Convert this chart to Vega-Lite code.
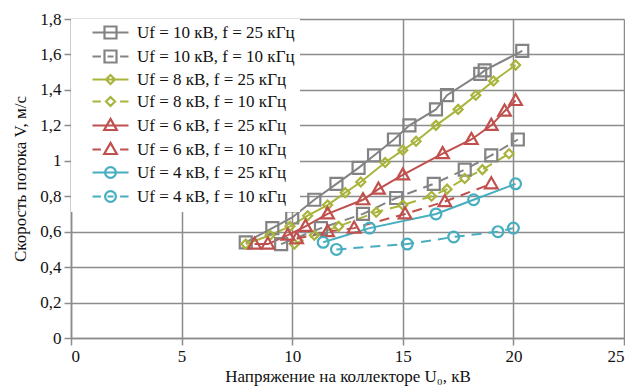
{
  "$schema": "https://vega.github.io/schema/vega-lite/v6.json",
  "width": 553,
  "height": 319,
  "padding": {"left": 11, "top": 10, "right": 0, "bottom": 5},
  "background": "white",
  "config": {
    "font": "Liberation Serif",
    "view": {"stroke": null},
    "axis": {
      "labelFont": "Liberation Serif",
      "titleFont": "Liberation Serif",
      "labelFontSize": 17,
      "titleFontSize": 17,
      "titleFontWeight": "normal",
      "labelColor": "#111",
      "titleColor": "#111",
      "gridColor": "#8c8c8c",
      "gridWidth": 1.5,
      "gridOpacity": 1,
      "domainColor": "#8c8c8c",
      "domainWidth": 1.5,
      "tickColor": "#8c8c8c",
      "tickWidth": 1.5,
      "tickSize": 7
    }
  },
  "data": {
    "values": [
      {"series": "Uf = 10 кВ, f = 25 кГц", "x": 7.9, "y": 0.54},
      {"series": "Uf = 10 кВ, f = 25 кГц", "x": 9.1, "y": 0.62},
      {"series": "Uf = 10 кВ, f = 25 кГц", "x": 10.0, "y": 0.68},
      {"series": "Uf = 10 кВ, f = 25 кГц", "x": 11.0, "y": 0.78},
      {"series": "Uf = 10 кВ, f = 25 кГц", "x": 12.0, "y": 0.87},
      {"series": "Uf = 10 кВ, f = 25 кГц", "x": 13.0, "y": 0.96},
      {"series": "Uf = 10 кВ, f = 25 кГц", "x": 13.7, "y": 1.03},
      {"series": "Uf = 10 кВ, f = 25 кГц", "x": 14.6, "y": 1.12},
      {"series": "Uf = 10 кВ, f = 25 кГц", "x": 15.3, "y": 1.20},
      {"series": "Uf = 10 кВ, f = 25 кГц", "x": 16.5, "y": 1.29},
      {"series": "Uf = 10 кВ, f = 25 кГц", "x": 17.0, "y": 1.37},
      {"series": "Uf = 10 кВ, f = 25 кГц", "x": 18.5, "y": 1.49},
      {"series": "Uf = 10 кВ, f = 25 кГц", "x": 18.7, "y": 1.51},
      {"series": "Uf = 10 кВ, f = 25 кГц", "x": 20.4, "y": 1.62},
      {"series": "Uf = 10 кВ, f = 10 кГц", "x": 9.5, "y": 0.53},
      {"series": "Uf = 10 кВ, f = 10 кГц", "x": 11.3, "y": 0.62},
      {"series": "Uf = 10 кВ, f = 10 кГц", "x": 13.2, "y": 0.70},
      {"series": "Uf = 10 кВ, f = 10 кГц", "x": 14.7, "y": 0.79},
      {"series": "Uf = 10 кВ, f = 10 кГц", "x": 16.4, "y": 0.87},
      {"series": "Uf = 10 кВ, f = 10 кГц", "x": 17.8, "y": 0.95},
      {"series": "Uf = 10 кВ, f = 10 кГц", "x": 19.0, "y": 1.03},
      {"series": "Uf = 10 кВ, f = 10 кГц", "x": 20.2, "y": 1.12},
      {"series": "Uf = 8 кВ, f = 25 кГц", "x": 7.9, "y": 0.53},
      {"series": "Uf = 8 кВ, f = 25 кГц", "x": 9.0, "y": 0.58},
      {"series": "Uf = 8 кВ, f = 25 кГц", "x": 9.9, "y": 0.63},
      {"series": "Uf = 8 кВ, f = 25 кГц", "x": 10.7, "y": 0.69},
      {"series": "Uf = 8 кВ, f = 25 кГц", "x": 11.6, "y": 0.75},
      {"series": "Uf = 8 кВ, f = 25 кГц", "x": 12.4, "y": 0.82},
      {"series": "Uf = 8 кВ, f = 25 кГц", "x": 13.1, "y": 0.88},
      {"series": "Uf = 8 кВ, f = 25 кГц", "x": 14.2, "y": 0.99},
      {"series": "Uf = 8 кВ, f = 25 кГц", "x": 15.0, "y": 1.06},
      {"series": "Uf = 8 кВ, f = 25 кГц", "x": 15.6, "y": 1.11},
      {"series": "Uf = 8 кВ, f = 25 кГц", "x": 16.5, "y": 1.20},
      {"series": "Uf = 8 кВ, f = 25 кГц", "x": 17.5, "y": 1.29},
      {"series": "Uf = 8 кВ, f = 25 кГц", "x": 18.3, "y": 1.37},
      {"series": "Uf = 8 кВ, f = 25 кГц", "x": 19.1, "y": 1.45},
      {"series": "Uf = 8 кВ, f = 25 кГц", "x": 20.1, "y": 1.54},
      {"series": "Uf = 8 кВ, f = 10 кГц", "x": 10.1, "y": 0.53},
      {"series": "Uf = 8 кВ, f = 10 кГц", "x": 11.0, "y": 0.58},
      {"series": "Uf = 8 кВ, f = 10 кГц", "x": 12.1, "y": 0.63},
      {"series": "Uf = 8 кВ, f = 10 кГц", "x": 13.8, "y": 0.71},
      {"series": "Uf = 8 кВ, f = 10 кГц", "x": 15.0, "y": 0.75},
      {"series": "Uf = 8 кВ, f = 10 кГц", "x": 16.3, "y": 0.80},
      {"series": "Uf = 8 кВ, f = 10 кГц", "x": 17.0, "y": 0.84},
      {"series": "Uf = 8 кВ, f = 10 кГц", "x": 17.8, "y": 0.90},
      {"series": "Uf = 8 кВ, f = 10 кГц", "x": 18.6, "y": 0.95},
      {"series": "Uf = 8 кВ, f = 10 кГц", "x": 19.8, "y": 1.04},
      {"series": "Uf = 6 кВ, f = 25 кГц", "x": 8.3, "y": 0.53},
      {"series": "Uf = 6 кВ, f = 25 кГц", "x": 8.9, "y": 0.53},
      {"series": "Uf = 6 кВ, f = 25 кГц", "x": 9.8, "y": 0.58},
      {"series": "Uf = 6 кВ, f = 25 кГц", "x": 10.6, "y": 0.63},
      {"series": "Uf = 6 кВ, f = 25 кГц", "x": 11.6, "y": 0.70},
      {"series": "Uf = 6 кВ, f = 25 кГц", "x": 13.2, "y": 0.78},
      {"series": "Uf = 6 кВ, f = 25 кГц", "x": 13.9, "y": 0.84},
      {"series": "Uf = 6 кВ, f = 25 кГц", "x": 15.0, "y": 0.92},
      {"series": "Uf = 6 кВ, f = 25 кГц", "x": 16.8, "y": 1.04},
      {"series": "Uf = 6 кВ, f = 25 кГц", "x": 18.1, "y": 1.12},
      {"series": "Uf = 6 кВ, f = 25 кГц", "x": 19.0, "y": 1.20},
      {"series": "Uf = 6 кВ, f = 25 кГц", "x": 19.6, "y": 1.28},
      {"series": "Uf = 6 кВ, f = 25 кГц", "x": 20.1, "y": 1.34},
      {"series": "Uf = 6 кВ, f = 10 кГц", "x": 10.2, "y": 0.56},
      {"series": "Uf = 6 кВ, f = 10 кГц", "x": 11.6, "y": 0.60},
      {"series": "Uf = 6 кВ, f = 10 кГц", "x": 12.8, "y": 0.62},
      {"series": "Uf = 6 кВ, f = 10 кГц", "x": 15.1, "y": 0.70},
      {"series": "Uf = 6 кВ, f = 10 кГц", "x": 16.9, "y": 0.77},
      {"series": "Uf = 6 кВ, f = 10 кГц", "x": 19.0, "y": 0.87},
      {"series": "Uf = 4 кВ, f = 25 кГц", "x": 11.4, "y": 0.54},
      {"series": "Uf = 4 кВ, f = 25 кГц", "x": 13.5, "y": 0.62},
      {"series": "Uf = 4 кВ, f = 25 кГц", "x": 16.5, "y": 0.70},
      {"series": "Uf = 4 кВ, f = 25 кГц", "x": 18.2, "y": 0.78},
      {"series": "Uf = 4 кВ, f = 25 кГц", "x": 20.1, "y": 0.87},
      {"series": "Uf = 4 кВ, f = 10 кГц", "x": 12.0, "y": 0.50},
      {"series": "Uf = 4 кВ, f = 10 кГц", "x": 15.2, "y": 0.53},
      {"series": "Uf = 4 кВ, f = 10 кГц", "x": 17.3, "y": 0.57},
      {"series": "Uf = 4 кВ, f = 10 кГц", "x": 19.3, "y": 0.60},
      {"series": "Uf = 4 кВ, f = 10 кГц", "x": 20.0, "y": 0.62}
    ]
  },
  "encoding": {
    "x": {
      "field": "x", "type": "quantitative",
      "scale": {"domain": [0, 25], "nice": false},
      "axis": {"values": [0, 5, 10, 15, 20, 25], "title": "Напряжение на коллекторе U₀, кВ", "labelPadding": 3, "titlePadding": 4}
    },
    "y": {
      "field": "y", "type": "quantitative",
      "scale": {"domain": [0, 1.8], "nice": false},
      "axis": {"values": [0, 0.2, 0.4, 0.6, 0.8, 1, 1.2, 1.4, 1.6, 1.8], "labelExpr": "replace(format(datum.value, '.1~f'), '.', ',')", "title": "Скорость потока V, м/с", "labelPadding": 3, "titlePadding": 10}
    },
    "color": {
      "field": "series", "type": "nominal",
      "scale": {
        "domain": ["Uf = 10 кВ, f = 25 кГц", "Uf = 10 кВ, f = 10 кГц", "Uf = 8 кВ, f = 25 кГц", "Uf = 8 кВ, f = 10 кГц", "Uf = 6 кВ, f = 25 кГц", "Uf = 6 кВ, f = 10 кГц", "Uf = 4 кВ, f = 25 кГц", "Uf = 4 кВ, f = 10 кГц"],
        "range": ["#838383", "#838383", "#a9b43c", "#a9b43c", "#c0504d", "#c0504d", "#46aebf", "#46aebf"]
      },
      "legend": {
        "title": null,
        "orient": "top-left",
        "offset": 0,
        "padding": 5,
        "fillColor": "white",
        "labelFont": "Liberation Serif",
        "labelFontSize": 17,
        "labelColor": "#111",
        "labelLimit": 300,
        "symbolSize": 144,
        "symbolOffset": 26,
        "labelOffset": 18,
        "rowPadding": 3,
        "symbolStrokeWidth": 2.2,
        "symbolOpacity": 1,
        "symbolFillColor": "transparent"
      }
    }
  },
  "layer": [
    {
      "transform": [{"filter": {"field": "series", "oneOf": ["Uf = 10 кВ, f = 25 кГц", "Uf = 8 кВ, f = 25 кГц", "Uf = 6 кВ, f = 25 кГц", "Uf = 4 кВ, f = 25 кГц"]}}],
      "mark": {"type": "line", "strokeWidth": 2}
    },
    {
      "transform": [{"filter": {"field": "series", "oneOf": ["Uf = 10 кВ, f = 10 кГц", "Uf = 8 кВ, f = 10 кГц", "Uf = 6 кВ, f = 10 кГц", "Uf = 4 кВ, f = 10 кГц"]}}],
      "mark": {"type": "line", "strokeWidth": 2, "strokeDash": [10, 7]}
    },
    {
      "transform": [{"filter": {"field": "series", "oneOf": ["Uf = 10 кВ, f = 25 кГц", "Uf = 10 кВ, f = 10 кГц"]}}],
      "mark": {"type": "point", "filled": false, "strokeWidth": 2.2, "size": 144, "opacity": 1, "shape": "M-1,-1H1V1H-1Z"}
    },
    {
      "transform": [{"filter": {"field": "series", "oneOf": ["Uf = 8 кВ, f = 25 кГц", "Uf = 8 кВ, f = 10 кГц"]}}],
      "mark": {"type": "point", "filled": false, "strokeWidth": 2.2, "size": 144, "opacity": 1, "shape": "M0,-0.75L0.75,0L0,0.75L-0.75,0Z"}
    },
    {
      "transform": [{"filter": {"field": "series", "oneOf": ["Uf = 6 кВ, f = 25 кГц", "Uf = 6 кВ, f = 10 кГц"]}}],
      "mark": {"type": "point", "filled": false, "strokeWidth": 2.2, "size": 144, "opacity": 1, "shape": "M0,-1.1L1.05,0.75H-1.05Z"}
    },
    {
      "transform": [{"filter": {"field": "series", "oneOf": ["Uf = 4 кВ, f = 25 кГц", "Uf = 4 кВ, f = 10 кГц"]}}],
      "mark": {"type": "point", "filled": false, "strokeWidth": 2.2, "size": 144, "opacity": 1, "shape": "M-0.9,0A0.9,0.9,0,1,1,0.9,0A0.9,0.9,0,1,1,-0.9,0Z"}
    },
    {
      "mark": {"type": "point", "filled": false, "strokeWidth": 2.2, "size": 144, "opacity": 0},
      "encoding": {
        "shape": {
          "field": "series", "type": "nominal",
          "scale": {
            "domain": ["Uf = 10 кВ, f = 25 кГц", "Uf = 10 кВ, f = 10 кГц", "Uf = 8 кВ, f = 25 кГц", "Uf = 8 кВ, f = 10 кГц", "Uf = 6 кВ, f = 25 кГц", "Uf = 6 кВ, f = 10 кГц", "Uf = 4 кВ, f = 25 кГц", "Uf = 4 кВ, f = 10 кГц"],
            "range": ["M-3,0H3M-1,-1H1V1H-1Z", "M-3,0H-1.6M1.6,0H3M-0.5,0H0.5M-1,-1H1V1H-1Z", "M-3,0H3M0,-0.75L0.75,0L0,0.75L-0.75,0Z", "M-3,0H-1.6M1.6,0H3M0,-0.75L0.75,0L0,0.75L-0.75,0Z", "M-3,0H3M0,-1.1L1.05,0.75H-1.05Z", "M-3,0H-1.6M1.6,0H3M0,-1.1L1.05,0.75H-1.05Z", "M-3,0H3M-0.9,0A0.9,0.9,0,1,1,0.9,0A0.9,0.9,0,1,1,-0.9,0Z", "M-3,0H-1.6M1.6,0H3M-0.5,0H0.5M-0.9,0A0.9,0.9,0,1,1,0.9,0A0.9,0.9,0,1,1,-0.9,0Z"]
          },
          "legend": {
            "title": null,
            "orient": "top-left",
            "offset": 0,
            "padding": 5,
            "fillColor": "white",
            "labelFont": "Liberation Serif",
            "labelFontSize": 17,
            "labelColor": "#111",
            "labelLimit": 300,
            "symbolSize": 144,
            "symbolOffset": 26,
            "labelOffset": 18,
            "rowPadding": 3,
            "symbolStrokeWidth": 2.2,
            "symbolOpacity": 1,
            "symbolFillColor": "transparent"
          }
        }
      }
    }
  ]
}
